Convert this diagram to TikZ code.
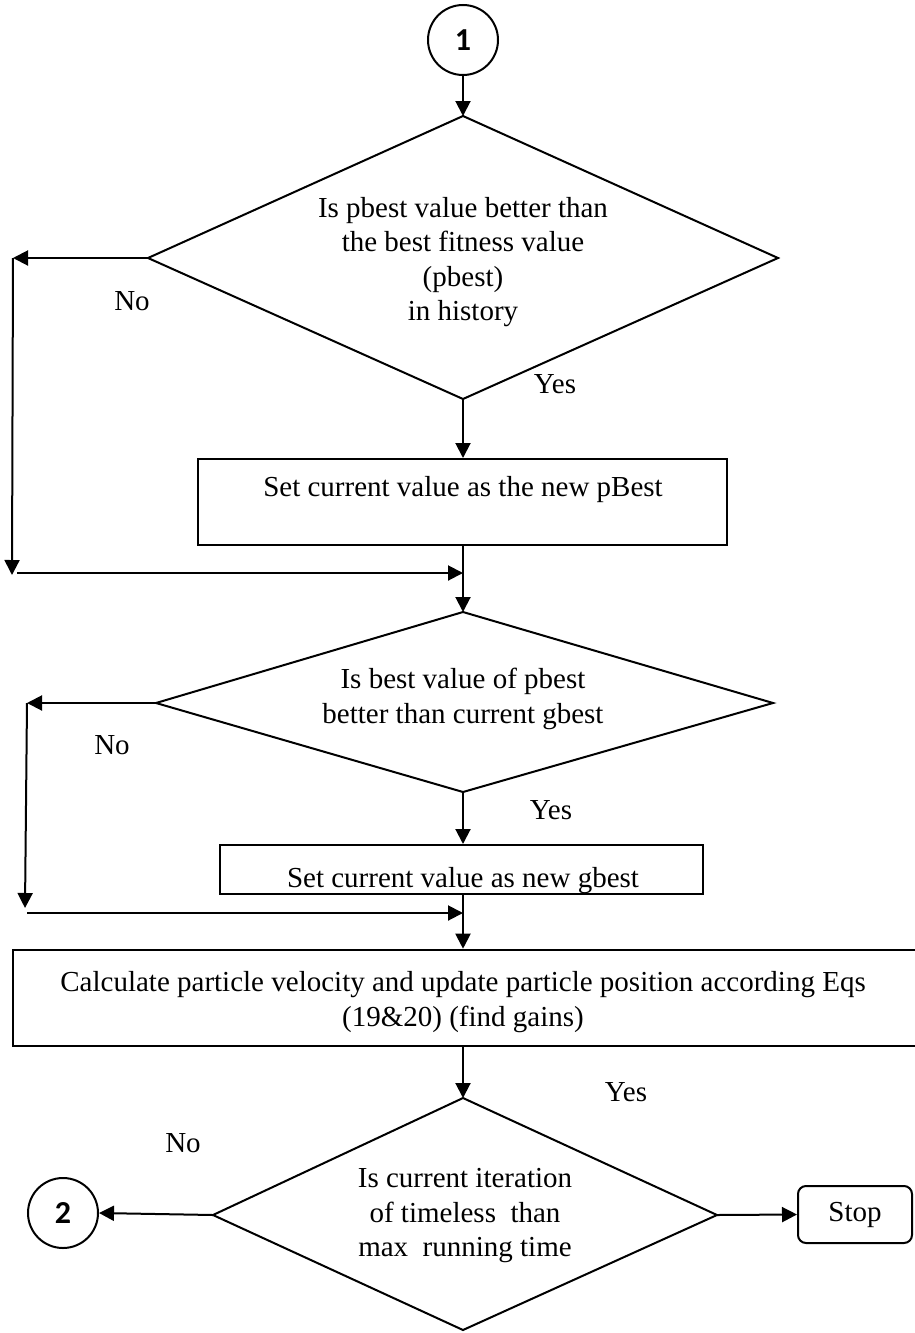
\documentclass[tikz,border=0pt]{standalone}
\usepackage{fontspec}
\setmainfont{Liberation Serif}
\newfontfamily\numfont{Carlito}
\usetikzlibrary{arrows.meta}
\begin{document}
\begin{tikzpicture}[x=1pt,y=-1pt,
  line/.style={line width=2pt},
  arr/.style={line width=2pt,-{Triangle[length=15pt,width=15pt]}},
  txt/.style={font=\fontsize{29}{34.5}\selectfont, align=center, inner sep=0pt},
  conn/.style={circle,draw,line width=2pt,minimum size=70pt,inner sep=0pt,
    font=\numfont\bfseries\fontsize{32}{32}\selectfont},
  box/.style={draw,line width=2pt,inner sep=0pt},
  lbl/.style={font=\fontsize{29}{34.5}\selectfont, inner sep=0pt}
]
\useasboundingbox (0,0) rectangle (914,1333);

% connector 1
\node[conn] (c1) at (463,40) {1};

% decision 1
\coordinate (d1t) at (463,116);
\coordinate (d1l) at (148,258);
\coordinate (d1r) at (778,258);
\coordinate (d1b) at (463,399);
\draw[line] (d1t) -- (d1r) -- (d1b) -- (d1l) -- cycle;
\node[txt] (q1) at (463,262) {Is pbest value better than\\the best fitness value\\(pbest)\\in history};
\node[lbl] (no1) at (132,301) {No};
\node[lbl] (yes1) at (555,384) {Yes};

% process 1
\node[box, minimum width=529pt, minimum height=86pt] (r1) at (462.5,502) {};
\node[txt] (t1) at (463,490) {Set current value as the new pBest};

% decision 2
\coordinate (d2t) at (463,612);
\coordinate (d2l) at (156,703);
\coordinate (d2r) at (773,703);
\coordinate (d2b) at (463,792);
\draw[line] (d2t) -- (d2r) -- (d2b) -- (d2l) -- cycle;
\node[txt] (q2) at (463,699) {Is best value of pbest\\better than current gbest};
\node[lbl] (no2) at (112,745) {No};
\node[lbl] (yes2) at (551,810) {Yes};

% process 2
\node[box, minimum width=483pt, minimum height=49pt] (r2) at (461.5,869.5) {};
\begin{scope}
\clip (r2.south west) rectangle (r2.north east);
\node[txt, anchor=base] (t2) at (463,887) {Set current value as new gbest};
\end{scope}

% process 3
\node[box, minimum width=917pt, minimum height=96pt, line width=2.6pt] (r3) at (471.5,998) {};
\node[txt] (t3) at (463,1002) {Calculate particle velocity and update particle position according Eqs\\(19\&20) (find gains)};
\node[lbl] (yes3) at (626,1092) {Yes};

% decision 3
\coordinate (d3t) at (463,1098);
\coordinate (d3l) at (213,1215);
\coordinate (d3r) at (717,1215);
\coordinate (d3b) at (463,1330);
\draw[line] (d3t) -- (d3r) -- (d3b) -- (d3l) -- cycle;
\node[txt] (q3) at (465,1216) {Is current iteration\\of timeless\ \ than\\max\ \ running time};
\node[lbl] (no3) at (183,1143) {No};

\node[conn] (c2) at (63,1213) {2};
\node[draw, line width=2pt, rounded corners=8pt, minimum width=114pt, minimum height=57pt, inner sep=0pt,
  font=\fontsize{29}{34.5}\selectfont] (stop) at (855,1214.5) {Stop};

% connectors
\draw[arr] (c1) -- (d1t);
\coordinate (a1) at (13,258);
\coordinate (a2) at (12,575);
\coordinate (a3) at (17,573);
\coordinate (m1) at (463,573);
\draw[arr] (d1l) -- (a1);
\draw[arr] (a1) -- (a2);
\draw[arr] (a3) -- (m1);
\draw[arr] (d1b) -- (d1b |- r1.north);
\draw[arr] (r1.south -| d2t) -- (d2t);

\coordinate (b1) at (27,703);
\coordinate (b2) at (25,908);
\coordinate (b3) at (27,913);
\coordinate (m2) at (463,913);
\draw[arr] (d2l) -- (b1);
\draw[arr] (b1) -- (b2);
\draw[arr] (b3) -- (m2);
\draw[arr] (d2b) -- (d2b |- r2.north);
\draw[arr] (r2.south -| d2b) -- (d2b |- r3.north);
\draw[arr] (r3.south -| d3t) -- (d3t);
\draw[arr] (d3l) -- (c2.east);
\draw[arr] (d3r) -- (stop.west);
\end{tikzpicture}
\end{document}
